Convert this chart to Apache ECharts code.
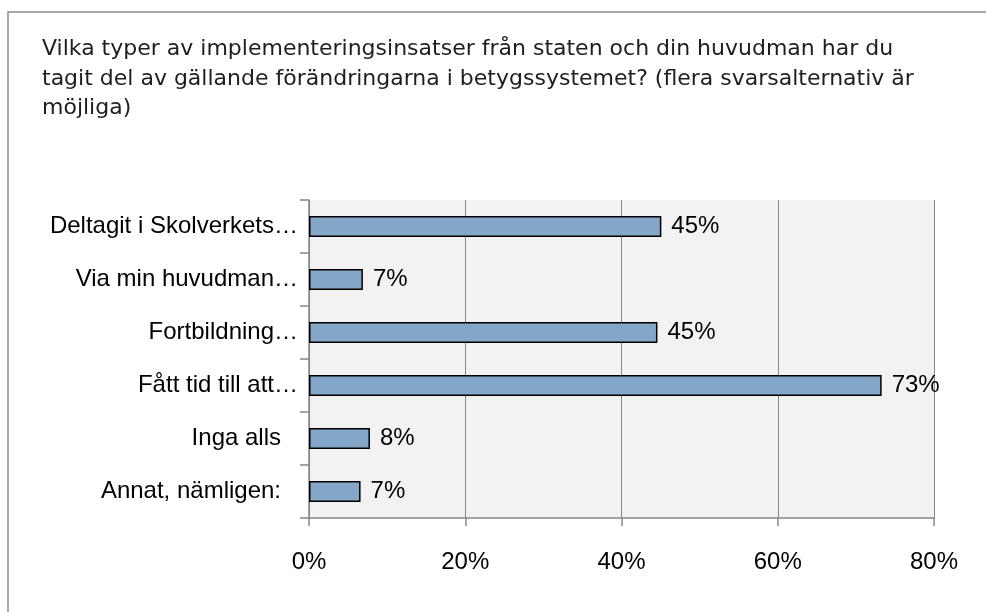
<!doctype html>
<html>
  <head>
    <meta charset="utf-8">
    <script src="https://cdn.jsdelivr.net/npm/echarts@6/dist/echarts.min.js"></script>
<style type="text/css">
	html,body{
		margin:0;
		padding:0;
		background:#fff;
	}
	#main{
		width:986px;
		height:612px;
	}
</style>
  </head>
  <body>
	<div id="main"></div>

<script>
	// svarsalternativ (uppifrån och ned)
	var categories = ['Deltagit i Skolverkets…', 'Via min huvudman…', 'Fortbildning…', 'Fått tid till att…', 'Inga alls', 'Annat, nämligen:'];
	// andel i procent
	var shares = [45.1, 6.9, 44.6, 73.3, 7.8, 6.6];
	var xTicks = [0, 20, 40, 60, 80];

	var titleText = 'Vilka typer av implementeringsinsatser från staten och din huvudman har du\n' +
		'tagit del av gällande förändringarna i betygssystemet? (flera svarsalternativ är\n' +
		'möjliga)';

	var myChart = echarts.init(document.getElementById('main'));

	var option = {
		backgroundColor:'#fff',
		animation:false,
		title:{
			text:titleText,
			left:42,
			top:35,
			padding:0,
			textStyle:{
				fontFamily:'DejaVu Sans',
				fontSize:22,
				fontWeight:'normal',
				color:'#1e1e1e',
				lineHeight:29.5
			}
		},
		graphic:[
			{
				type:'rect',
				shape:{x:8, y:12, width:1100, height:700},
				style:{fill:'none', stroke:'#8c8c8c', lineWidth:1.5},
				silent:true
			}
		],
		grid:{
			left:309,
			top:200,
			right:52,
			bottom:94,
			show:true,
			backgroundColor:'#f2f2f2',
			borderWidth:0
		},
		xAxis:{
			type:'value',
			min:xTicks[0],
			max:xTicks[xTicks.length-1],
			interval:20,
			axisLine:{show:true, lineStyle:{color:'#868686', width:1.5}},
			axisTick:{show:true, length:8, lineStyle:{color:'#868686', width:1.5}},
			splitLine:{show:true, lineStyle:{color:'#898989', width:1}},
			axisLabel:{
				margin:32,
				fontFamily:'Liberation Sans',
				fontSize:24,
				color:'#000',
				formatter:'{value}%'
			}
		},
		yAxis:{
			type:'category',
			inverse:true,
			data:categories,
			axisLine:{show:true, lineStyle:{color:'#868686', width:1.5}},
			axisTick:{show:true, length:9, alignWithLabel:false, lineStyle:{color:'#868686', width:1.5}},
			splitLine:{show:false},
			axisLabel:{
				margin:11,
				formatter:function(v){
					// avkortade etiketter ligger närmare axeln
					return v.slice(-1) == '…' ? '{a|' + v + '}' : '{b|' + v + '}';
				},
				rich:{
					a:{fontFamily:'Liberation Sans', fontSize:24, color:'#000'},
					b:{fontFamily:'Liberation Sans', fontSize:24, color:'#000', padding:[0,17,0,0]}
				}
			}
		},
		series:[
			{
				type:'bar',
				data:shares,
				barWidth:21,
				itemStyle:{
					color:'#84a7c9',
					borderColor:'#000',
					borderWidth:1.5
				},
				label:{
					show:true,
					position:'right',
					distance:10,
					fontFamily:'Liberation Sans',
					fontSize:24,
					color:'#000',
					formatter:function(p){ return Math.round(p.value) + '%'; }
				}
			}
		]
	};

	myChart.setOption(option);
</script>
  </body>
</html>
